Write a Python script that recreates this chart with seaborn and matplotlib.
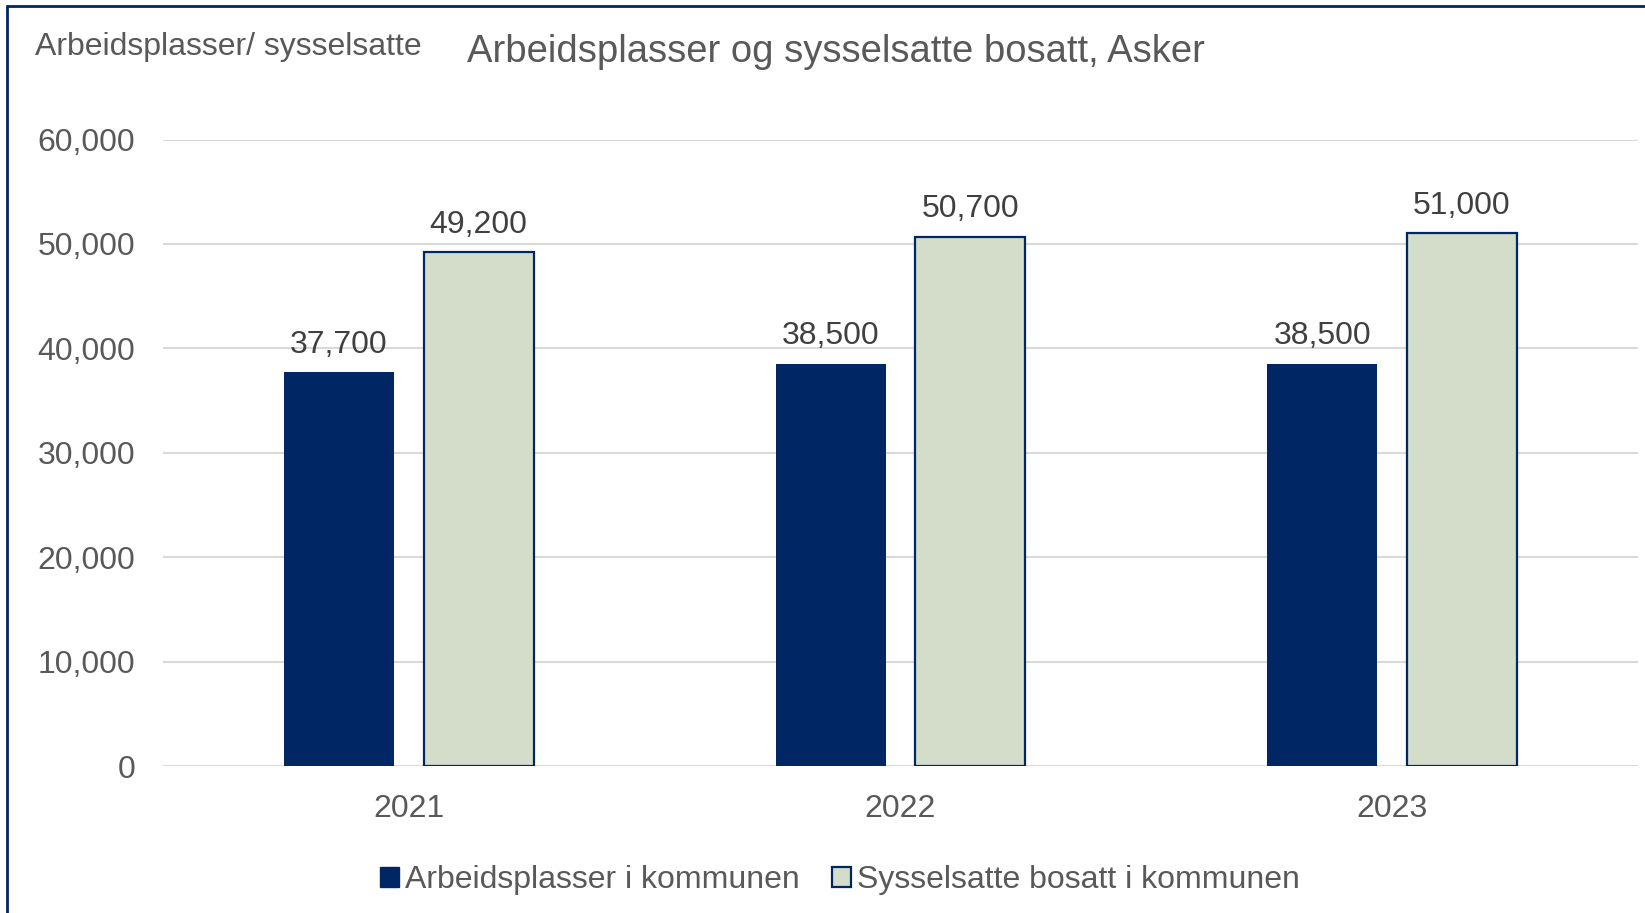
import matplotlib
matplotlib.use("Agg")
import matplotlib.pyplot as plt
import seaborn as sns
import pandas as pd
from matplotlib.lines import Line2D
from matplotlib.patches import Patch
from matplotlib.ticker import FuncFormatter, MultipleLocator

years = ["2021", "2022", "2023"]
series_names = ["Arbeidsplasser i kommunen", "Sysselsatte bosatt i kommunen"]
arbeidsplasser = [37700, 38500, 38500]
sysselsatte = [49200, 50700, 51000]
title = "Arbeidsplasser og sysselsatte bosatt, Asker"
ylabel = "Arbeidsplasser/ sysselsatte"

navy = "#002664"
green = "#D3DDC9"
gray = "#595959"
dark = "#404040"

df = pd.DataFrame({
    "year": years * 2,
    "series": [series_names[0]] * 3 + [series_names[1]] * 3,
    "value": arbeidsplasser + sysselsatte,
})

sns.set_theme(style="white")
plt.rcParams["font.family"] = ["Liberation Sans", "DejaVu Sans"]

fig = plt.figure(figsize=(16.45, 9.13), dpi=100)
ax = fig.add_axes([163 / 1645, 1 - 766 / 913, (1638 - 163) / 1645, (766 - 139.5) / 913])

sns.barplot(data=df, x="year", y="value", hue="series", order=years,
            hue_order=series_names, palette=[navy, green], width=0.568, gap=0.211,
            ax=ax, legend=False, errorbar=None, saturation=1)

for i, bar in enumerate(ax.patches):
    if i >= 3:
        bar.set_edgecolor(navy)
        bar.set_linewidth(1.6)
    else:
        bar.set_edgecolor("none")
    bar.set_zorder(3)

for bar in ax.patches:
    h = bar.get_height()
    ax.annotate(f"{h:,.0f}", (bar.get_x() + bar.get_width() / 2, h),
                xytext=(0, 9), textcoords="offset points", ha="center", va="bottom",
                fontsize=23, color=dark)

ax.set_xlim(-0.5, 2.5)
ax.set_ylim(0, 60000)
ax.yaxis.set_major_locator(MultipleLocator(10000))
ax.yaxis.set_major_formatter(FuncFormatter(lambda v, p: f"{v:,.0f}"))
ax.grid(axis="y", color="#d9d9d9", linewidth=1.5, zorder=0)
ax.set_axisbelow(True)
for s in ax.spines.values():
    s.set_visible(False)
ax.tick_params(axis="y", length=0, pad=20, labelsize=23, labelcolor=gray)
ax.tick_params(axis="x", length=0, pad=20, labelsize=23, labelcolor=gray)
ax.set_xlabel("")
ax.set_ylabel("")

fig.text(35 / 1645, 1 - 47 / 913, ylabel, ha="left", va="center", fontsize=23, color=gray)
fig.text(836 / 1645, 1 - 52 / 913, title, ha="center", va="center", fontsize=27.5, color=gray)

handles = [Patch(facecolor=navy, edgecolor=navy), Patch(facecolor=green, edgecolor=navy, linewidth=1.6)]
fig.legend(handles, series_names, loc="center", bbox_to_anchor=(840 / 1645, 1 - 880 / 913),
           ncol=2, frameon=False, fontsize=23, labelcolor=gray, handlelength=0.6,
           handleheight=0.6, handletextpad=0.2, columnspacing=1.0)

fig.add_artist(Line2D([7 / 1645, 7 / 1645], [0, 1 - 6 / 913], color=navy, linewidth=2, transform=fig.transFigure))
fig.add_artist(Line2D([7 / 1645, 1], [1 - 6 / 913, 1 - 6 / 913], color=navy, linewidth=2, transform=fig.transFigure))

fig.savefig("out.png", dpi=100, facecolor="white")
